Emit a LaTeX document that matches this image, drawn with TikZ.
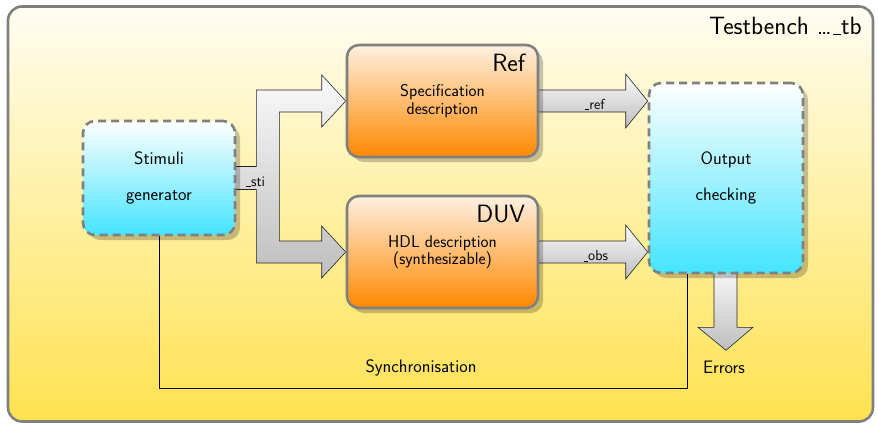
\documentclass[tikz,border=0pt]{standalone}
\usepackage{fontspec}
\usetikzlibrary{calc,shadows}
\definecolor{bgtop}{RGB}{255,253,242}
\definecolor{bgbot}{RGB}{255,226,80}
\definecolor{cyanbot}{RGB}{68,228,255}
\definecolor{orangetop}{RGB}{255,240,225}
\definecolor{orangebot}{RGB}{255,136,0}
\definecolor{bordergray}{RGB}{128,128,128}
\definecolor{arrtop}{RGB}{250,250,250}
\definecolor{arrbot}{RGB}{190,190,190}
\newcommand\usc{\leavevmode\kern.06em\vbox{\hrule width.3em height .45pt}\kern.02em}
\pgfdeclarelayer{back}
\pgfdeclarelayer{mid}
\pgfsetlayers{back,mid,main}
\begin{document}
\begin{tikzpicture}[x=1pt,y=-1pt,
  box/.style={rectangle, rounded corners=12pt, line width=2.6pt, draw=bordergray, align=center,
    drop shadow={shadow xshift=5pt,shadow yshift=-5pt,fill=black,opacity=0.22}},
  cyanbox/.style={box, dash pattern=on 8pt off 5pt, top color=white, bottom color=cyanbot,
    font=\sffamily\fontsize{18}{18}\selectfont},
  orbox/.style={box, top color=orangetop, bottom color=orangebot,
    font=\sffamily\fontsize{17}{17.5}\selectfont},
  fat/.style={draw=black!85, line width=0.6pt, top color=arrtop, bottom color=arrbot},
  lbl/.style={font=\sffamily\fontsize{18}{20}\selectfont, inner sep=0pt},
  small/.style={font=\sffamily\fontsize{14.5}{16}\selectfont, inner sep=0pt},
  big/.style={font=\sffamily\fontsize{25}{28}\selectfont, inner sep=0pt},
]
\useasboundingbox (0,0) rectangle (878,426);
% testbench frame
\begin{pgfonlayer}{back}
\node[rectangle, rounded corners=14pt, line width=2.6pt, draw=bordergray,
      top color=bgtop, bottom color=bgbot, minimum width=865pt, minimum height=415pt]
      (tb) at (440.5,214) {};
\end{pgfonlayer}
\node[big, anchor=base east] (tbl) at (862,34) {Testbench \ldots\usc tb};

% blocks
\node[cyanbox, minimum width=152pt, minimum height=114pt] (stim) at (159,178) {Stimuli\\[18pt]generator};
\node[orbox, minimum width=191pt, minimum height=112pt] (ref) at (442.5,101) {Specification\\description};
\node[orbox, minimum width=191pt, minimum height=112pt] (duv) at (442.5,252) {HDL description\\(synthesizable)};
\node[cyanbox, minimum width=154pt, minimum height=190pt] (out) at (726,178) {Output\\[18pt]checking};
\node[big, anchor=base east] (refl) at ($(ref.north east)+(-14,28)$) {Ref};
\node[big, anchor=base east] (duvl) at ($(duv.north east)+(-14,28)$) {DUV};

% helper coordinates
\coordinate (so) at ($(stim.east)+(20,0)$);
\coordinate (si) at ($(stim.east)+(43,0)$);
\coordinate (sor) at (so |- ref.west);
\coordinate (sir) at (si |- ref.west);
\coordinate (sod) at (so |- duv.west);
\coordinate (sid) at (si |- duv.west);
\coordinate (rh) at ($(ref.west)+(-24,0)$);
\coordinate (dh) at ($(duv.west)+(-24,0)$);
\coordinate (rt) at (out.west |- ref.east);
\coordinate (dt) at (out.west |- duv.east);
\coordinate (sb) at ($(out.south)+(-39,114)$);

\begin{pgfonlayer}{mid}
% fork arrow from stimuli
\draw[fat] ($(stim.east)+(-10,-11.5)$) -- ($(so)+(0,-11.5)$) -- ($(sor)+(0,-11)$) -- ($(rh)+(0,-11)$)
  -- ($(rh)+(0,-26)$) -- (ref.west) -- ($(rh)+(0,26)$) -- ($(rh)+(0,11)$) -- ($(sir)+(0,11)$)
  -- ($(sid)+(0,-11)$) -- ($(dh)+(0,-11)$) -- ($(dh)+(0,-26)$) -- (duv.west) -- ($(dh)+(0,26)$)
  -- ($(dh)+(0,11)$) -- ($(sod)+(0,11)$) -- ($(so)+(0,11.5)$) -- ($(stim.east)+(-10,11.5)$) -- cycle;
% ref arrow
\draw[fat] ($(ref.east)+(-6,-11)$) -- ($(rt)+(-22,-11)$) -- ($(rt)+(-22,-27)$) -- (rt)
  -- ($(rt)+(-22,27)$) -- ($(rt)+(-22,11)$) -- ($(ref.east)+(-6,11)$) -- cycle;
% obs arrow
\draw[fat] ($(duv.east)+(-6,-11)$) -- ($(dt)+(-22,-11)$) -- ($(dt)+(-22,-27)$) -- (dt)
  -- ($(dt)+(-22,27)$) -- ($(dt)+(-22,11)$) -- ($(duv.east)+(-6,11)$) -- cycle;
% errors arrow
\draw[fat] ($(out.south)+(-12,-6)$) -- ($(out.south)+(-12,53)$) -- ($(out.south)+(-28,53)$)
  -- ($(out.south)+(0,76)$) -- ($(out.south)+(27,53)$) -- ($(out.south)+(11,53)$)
  -- ($(out.south)+(11,-6)$) -- cycle;
% synchronisation line
\draw[line width=0.8pt] (stim.south) |- (sb) -- (sb |- out.south);
\end{pgfonlayer}

% labels
\node[small] (lsti) at ($(stim.east)+(19,4)$) {\usc sti};
\node[small] (lref) at ($(ref.east)+(55,3)$) {\usc ref};
\node[small] (lobs) at ($(duv.east)+(56,4)$) {\usc obs};
\node[lbl] (lerr) at ($(out.south)+(-2,93)$) {Errors};
\node[lbl] (lsync) at (421,368) {Synchronisation};
\end{tikzpicture}
\end{document}
